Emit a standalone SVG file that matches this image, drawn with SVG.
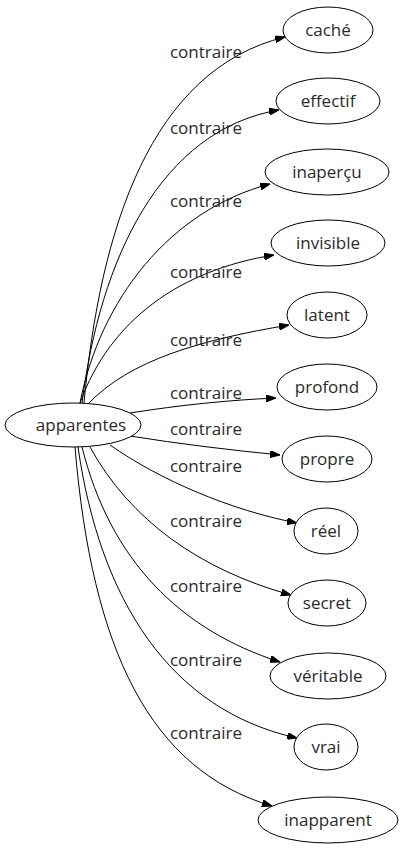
<svg xmlns="http://www.w3.org/2000/svg" width="403" height="851" viewBox="0 0 403 851">
<style>
.n ellipse{fill:#fff;stroke:#000;stroke-width:1}
text{font-family:"Open Sans","DejaVu Sans",sans-serif;font-size:17px;fill:#2a2a2a;text-anchor:middle}
.e path{fill:none;stroke:#000;stroke-width:1;marker-end:url(#ah)}
</style>
<defs>
<marker id="ah" viewBox="0 0 10 7" refX="10" refY="3.5" markerWidth="10" markerHeight="7" markerUnits="userSpaceOnUse" orient="auto">
<path d="M0,0 L10,3.5 L0,7 Z" fill="#000" stroke="#000"/>
</marker>
</defs>
<rect width="403" height="851" fill="#fff"/>
<g id="edges" class="e">
<path d="M84,403 C100,230 150,70 285,37"/>
<path d="M82,403 C100,260 160,130 279,110"/>
<path d="M80,403 C100,300 170,210 270,184"/>
<path d="M80,403 C110,320 180,270 274,255"/>
<path d="M88,404 C130,360 200,340 289,325"/>
<path d="M130,413 C180,405 230,400 276,398"/>
<path d="M130,436 C180,444 230,450 280,455"/>
<path d="M110,445 C160,480 230,510 297,523"/>
<path d="M90,447 C130,520 200,570 291,595"/>
<path d="M82,447 C110,560 180,630 280,662"/>
<path d="M78,447 C100,600 170,710 297,738"/>
<path d="M75,447 C92,650 150,770 272,806"/>
</g>
<g id="labels">
<text x="206" y="58">contraire</text>
<text x="206" y="134">contraire</text>
<text x="206" y="207">contraire</text>
<text x="206" y="278">contraire</text>
<text x="206" y="346">contraire</text>
<text x="206" y="399">contraire</text>
<text x="206" y="435">contraire</text>
<text x="206" y="472">contraire</text>
<text x="206" y="527">contraire</text>
<text x="206" y="592">contraire</text>
<text x="206" y="666">contraire</text>
<text x="206" y="739">contraire</text>
</g>
<g id="apparentes" class="n"><ellipse cx="73" cy="425" rx="68" ry="22"/><text x="81" y="431">apparentes</text></g>
<g id="cache" class="n"><ellipse cx="328" cy="30" rx="45" ry="23"/><text x="328" y="36">caché</text></g>
<g id="effectif" class="n"><ellipse cx="328" cy="101" rx="52" ry="23"/><text x="328" y="107">effectif</text></g>
<g id="inapercu" class="n"><ellipse cx="327" cy="172" rx="62" ry="23"/><text x="327" y="178">inaperçu</text></g>
<g id="invisible" class="n"><ellipse cx="328" cy="243" rx="57" ry="23"/><text x="328" y="249">invisible</text></g>
<g id="latent" class="n"><ellipse cx="327" cy="315" rx="40" ry="23"/><text x="327" y="321">latent</text></g>
<g id="profond" class="n"><ellipse cx="327" cy="387" rx="50" ry="23"/><text x="327" y="393">profond</text></g>
<g id="propre" class="n"><ellipse cx="327" cy="459" rx="45" ry="23"/><text x="327" y="465">propre</text></g>
<g id="reel" class="n"><ellipse cx="326" cy="531" rx="32" ry="23"/><text x="326" y="537">réel</text></g>
<g id="secret" class="n"><ellipse cx="327" cy="603" rx="39" ry="23"/><text x="327" y="609">secret</text></g>
<g id="veritable" class="n"><ellipse cx="328" cy="676" rx="58" ry="23"/><text x="328" y="682">véritable</text></g>
<g id="vrai" class="n"><ellipse cx="326" cy="747" rx="32" ry="23"/><text x="326" y="753">vrai</text></g>
<g id="inapparent" class="n"><ellipse cx="328" cy="820" rx="70" ry="23"/><text x="328" y="826">inapparent</text></g>
</svg>
